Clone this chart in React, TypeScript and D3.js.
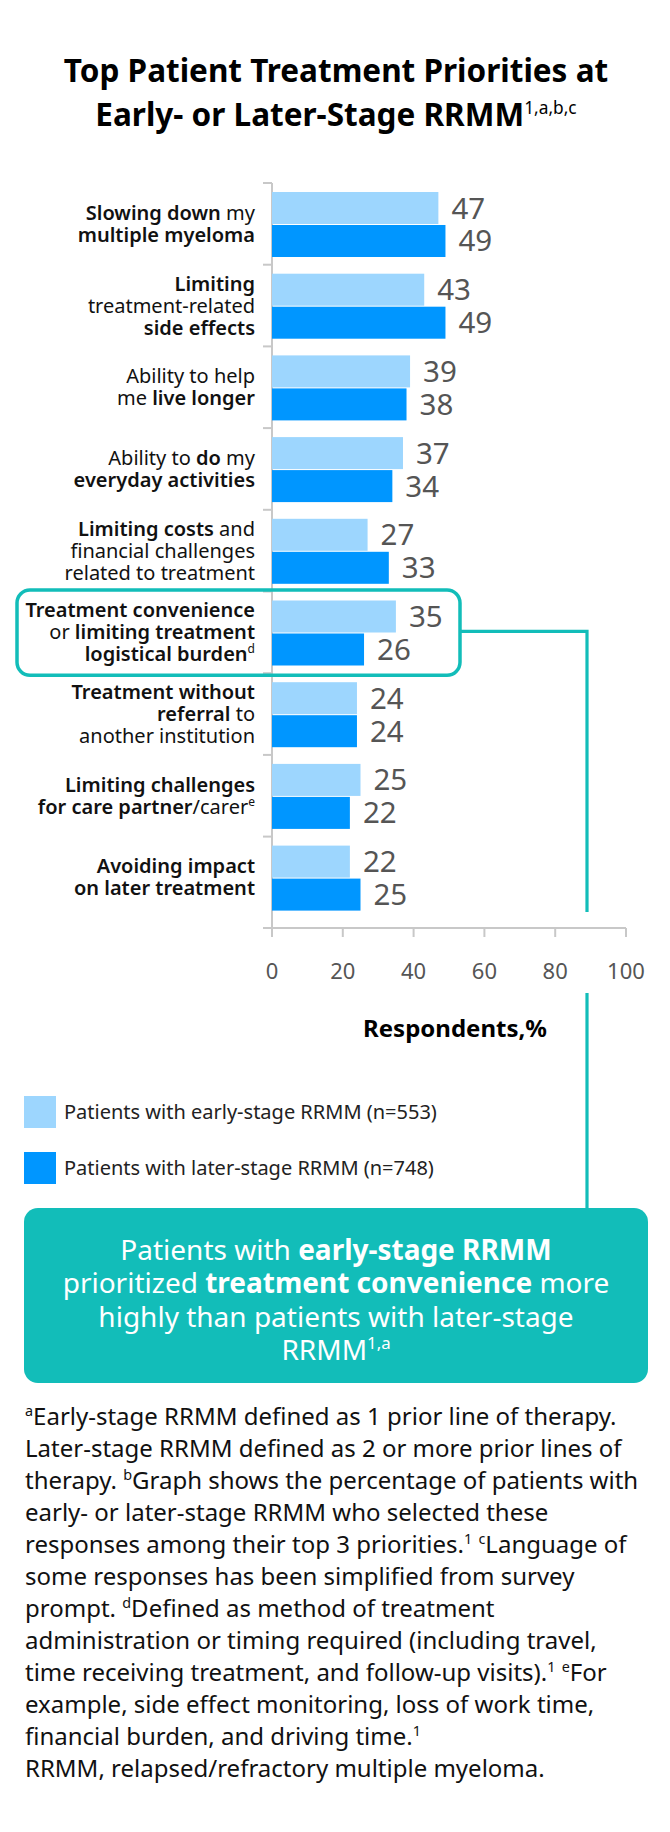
import React from "react";
import * as d3 from "d3";

// ---------- data ----------
const categories = [
  "slowing",
  "sideEffects",
  "liveLonger",
  "everyday",
  "costs",
  "convenience",
  "referral",
  "carePartner",
  "laterTreatment",
];
const earlyValues = [47, 43, 39, 37, 27, 35, 24, 25, 22];
const laterValues = [49, 49, 38, 34, 33, 26, 24, 22, 25];
const seriesNames = ["early", "later"];
const legendLabels = [
  "Patients with early-stage RRMM (n=553)",
  "Patients with later-stage RRMM (n=748)",
];
const xTickValues = [0, 20, 40, 60, 80, 100];
const highlightCategory = "convenience";

type Seg = [string, "b" | "n" | "s"];
const categoryLabels: Seg[][][] = [
  [[["Slowing down", "b"], [" my", "n"]], [["multiple myeloma", "b"]]],
  [[["Limiting", "b"]], [["treatment-related", "n"]], [["side effects", "b"]]],
  [[["Ability to help", "n"]], [["me ", "n"], ["live longer", "b"]]],
  [[["Ability to ", "n"], ["do", "b"], [" my", "n"]], [["everyday activities", "b"]]],
  [[["Limiting costs", "b"], [" and", "n"]], [["financial challenges", "n"]], [["related to treatment", "n"]]],
  [[["Treatment convenience", "b"]], [["or ", "n"], ["limiting treatment", "b"]], [["logistical burden", "b"], ["d", "s"]]],
  [[["Treatment without", "b"]], [["referral", "b"], [" to", "n"]], [["another institution", "n"]]],
  [[["Limiting challenges", "b"]], [["for care partner", "b"], ["/carer", "n"], ["e", "s"]]],
  [[["Avoiding impact", "b"]], [["on later treatment", "b"]]],
];

const titleLines: Seg[][] = [
  [["Top Patient Treatment Priorities at", "b"]],
  [["Early- or Later-Stage RRMM", "b"], ["1,a,b,c", "s"]],
];
const xAxisTitle = "Respondents,%";
const calloutLines: Seg[][] = [
  [["Patients with ", "n"], ["early-stage RRMM", "b"]],
  [["prioritized ", "n"], ["treatment convenience", "b"], [" more", "n"]],
  [["highly than patients with later-stage", "n"]],
  [["RRMM", "n"], ["1,a", "s"]],
];
const footnoteLines: Seg[][] = [
  [["a", "s"], ["Early-stage RRMM defined as 1 prior line of therapy.", "n"]],
  [["Later-stage RRMM defined as 2 or more prior lines of", "n"]],
  [["therapy. ", "n"], ["b", "s"], ["Graph shows the percentage of patients with", "n"]],
  [["early- or later-stage RRMM who selected these", "n"]],
  [["responses among their top 3 priorities.", "n"], ["1", "s"], [" ", "n"], ["c", "s"], ["Language of", "n"]],
  [["some responses has been simplified from survey", "n"]],
  [["prompt. ", "n"], ["d", "s"], ["Defined as method of treatment", "n"]],
  [["administration or timing required (including travel,", "n"]],
  [["time receiving treatment, and follow-up visits).", "n"], ["1", "s"], [" ", "n"], ["e", "s"], ["For", "n"]],
  [["example, side effect monitoring, loss of work time,", "n"]],
  [["financial burden, and driving time.", "n"], ["1", "s"]],
  [["RRMM, relapsed/refractory multiple myeloma.", "n"]],
];

// ---------- style ----------
const FONT = "'Noto Sans', 'Open Sans', sans-serif";
const LIGHT = "#9dd6fe";
const DARK = "#0096ff";
const TEAL = "#12bdb9";
const GRID = "#c8c8c8";

function Segs({
  segs,
  bold = 700,
  sup = 0.6,
  supWeight,
}: {
  segs: Seg[];
  bold?: number;
  sup?: number;
  supWeight?: number;
}) {
  return (
    <>
      {segs.map(([t, k], i) =>
        k === "s" ? (
          <tspan key={i} fontSize={`${sup}em`} baselineShift="super" fontWeight={supWeight}>
            {t}
          </tspan>
        ) : (
          <tspan key={i} fontWeight={k === "b" ? bold : 400}>
            {t}
          </tspan>
        )
      )}
    </>
  );
}

export default function App() {
  const W = 670;
  const H = 1832;
  const x = d3.scaleLinear().domain([0, 100]).range([272, 626]);
  const y = d3.scaleBand<string>().domain(categories).range([183, 918.3]);
  const inner = d3.scaleBand<string>().domain(seriesNames).range([9, 74]).paddingInner(0.03);
  const color = d3.scaleOrdinal<string, string>().domain(seriesNames).range([LIGHT, DARK]);
  const values: Record<string, number[]> = { early: earlyValues, later: laterValues };
  const axisY = 928;
  const boundaries = categories.map((c) => y(c)!);

  const hb = y(highlightCategory)!;
  const connY = hb + y.bandwidth() / 2 - 1;
  const connX = 587;
  const calloutTop = 1208;

  return (
    <svg
      width={W}
      height={H}
      style={{ position: "absolute", left: 0, top: 0, background: "#fff" }}
      fontFamily={FONT}
    >
      <rect width={W} height={H} fill="#fff" />
      {/* title */}
      {titleLines.map((line, i) => (
        <text key={i} x={336} y={82 + i * 44} textAnchor="middle" fontSize={31.5} fill="#000">
          <Segs segs={line} sup={0.55} supWeight={400} />
        </text>
      ))}

      {/* category separators & y axis */}
      {boundaries.map((b, i) => (
        <line key={i} x1={263} x2={272} y1={b} y2={b} stroke={GRID} strokeWidth={2} />
      ))}
      <line x1={272} x2={272} y1={y.range()[0]} y2={axisY} stroke={GRID} strokeWidth={2} />

      {/* bars */}
      {categories.map((c, ci) =>
        seriesNames.map((s) => {
          const v = values[s][ci];
          const by = y(c)! + inner(s)!;
          return (
            <g key={c + s}>
              <rect x={x(0)} y={by} width={x(v) - x(0)} height={inner.bandwidth()} fill={color(s)} />
              <text
                x={x(v) + 13}
                y={by + inner.bandwidth() / 2 + 10.5}
                fontSize={29.5}
                fill="#555"
              >
                {v}
              </text>
            </g>
          );
        })
      )}

      {/* category labels */}
      {categoryLabels.map((lines, ci) => {
        const cy = y(categories[ci])! + y.bandwidth() / 2;
        const n = lines.length;
        return (
          <g key={ci}>
            {lines.map((segs, li) => (
              <text
                key={li}
                x={255}
                y={cy + 7 + (li - (n - 1) / 2) * 22}
                textAnchor="end"
                fontSize={20}
                fill="#111"
              >
                <Segs segs={segs} bold={600} />
              </text>
            ))}
          </g>
        );
      })}

      {/* x axis */}
      <line x1={263} x2={x(100)} y1={axisY} y2={axisY} stroke={GRID} strokeWidth={2} />
      {xTickValues.map((t) => (
        <g key={t}>
          <line x1={x(t)} x2={x(t)} y1={axisY} y2={axisY + 9} stroke={GRID} strokeWidth={2} />
          <text x={x(t)} y={979} textAnchor="middle" fontSize={22} fill="#555">
            {t}
          </text>
        </g>
      ))}
      <text x={455} y={1037} textAnchor="middle" fontSize={24} fontWeight={700} fill="#000">
        {xAxisTitle}
      </text>

      {/* highlight box + connector */}
      <rect
        x={17}
        y={hb - 1.5}
        width={443}
        height={y.bandwidth() + 3.5}
        rx={13}
        fill="none"
        stroke={TEAL}
        strokeWidth={3.5}
      />
      <path d={`M460,${connY}H${connX}V912`} fill="none" stroke={TEAL} strokeWidth={3.2} />
      <line x1={connX} x2={connX} y1={993} y2={calloutTop} stroke={TEAL} strokeWidth={3.2} />

      {/* legend */}
      {seriesNames.map((s, i) => (
        <g key={s}>
          <rect x={24} y={1096 + i * 56} width={32} height={32} fill={color(s)} />
          <text x={64} y={1119 + i * 56} fontSize={20} fill="#222">
            {legendLabels[i]}
          </text>
        </g>
      ))}

      {/* callout */}
      <rect x={24} y={calloutTop} width={624} height={175} rx={14} fill={TEAL} />
      {calloutLines.map((line, i) => (
        <text key={i} x={336} y={1260 + i * 33.3} textAnchor="middle" fontSize={28} fill="#fff">
          <Segs segs={line} />
        </text>
      ))}

      {/* footnotes */}
      {footnoteLines.map((line, i) => (
        <text key={i} x={25} y={1425 + i * 32} fontSize={24} fill="#111">
          <Segs segs={line} />
        </text>
      ))}
    </svg>
  );
}
